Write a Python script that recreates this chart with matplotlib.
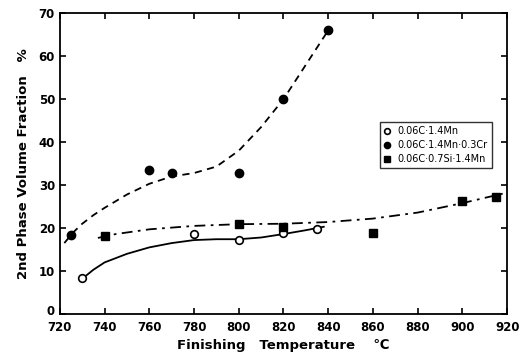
import matplotlib.pyplot as plt
from matplotlib.transforms import ScaledTranslation

# measured points
mn_x = [730, 780, 800, 820, 835]
mn_y = [8.3, 18.5, 17.3, 18.9, 19.7]
cr_x = [725, 760, 770, 800, 820, 840]
cr_y = [18.3, 33.6, 32.8, 32.8, 50.1, 66.0]
si_x = [740, 800, 820, 860, 900, 915]
si_y = [18.2, 21.0, 20.3, 18.8, 26.3, 27.3]

# hand-drawn trend curves
mn_cx = [730, 735, 740, 750, 760, 770, 780, 790, 800, 810, 820, 830, 838]
mn_cy = [8.2, 10.3, 12.0, 14.0, 15.5, 16.5, 17.2, 17.4, 17.4, 17.8, 18.6, 19.5, 20.3]
cr_cx = [722, 726, 730, 735, 740, 750, 760, 770, 780, 790, 800, 810, 820, 830, 840]
cr_cy = [16.5, 19.0, 21.0, 23.0, 24.7, 27.8, 30.3, 32.0, 32.8, 34.3, 38.0, 43.5, 50.0, 58.0, 66.0]
si_cx = [737, 745, 760, 780, 800, 820, 840, 860, 880, 900, 918]
si_cy = [17.7, 18.6, 19.7, 20.5, 20.9, 21.0, 21.4, 22.2, 23.6, 25.8, 28.0]

labels = ["0.06C\u00b71.4Mn", "0.06C\u00b71.4Mn\u00b70.3Cr", "0.06C\u00b70.7Si\u00b71.4Mn"]

plt.rcParams["font.family"] = "DejaVu Sans"
plt.rcParams["font.weight"] = "bold"

fig = plt.figure(figsize=(5.25, 3.56), dpi=100)
ax = fig.add_axes([0.114, 0.118, 0.852, 0.845])

ax.plot(mn_cx, mn_cy, "k-", lw=1.3)
ax.plot(cr_cx, cr_cy, "k--", lw=1.3, dashes=(4, 3))
ax.plot(si_cx, si_cy, "k-.", lw=1.3, dashes=(6, 3, 1.5, 3))

ax.plot(mn_x, mn_y, "o", mfc="white", mec="k", mew=1.2, ms=5.5, label=labels[0])
ax.plot(cr_x, cr_y, "o", color="k", ms=6, label=labels[1])
ax.plot(si_x, si_y, "s", color="k", ms=5.5, label=labels[2])

ax.set_xlim(720, 920)
ax.set_ylim(0, 70)
ax.set_xticks(range(720, 921, 20))
ax.set_yticks(range(0, 71, 10))
ax.tick_params(direction="in", top=True, right=True, length=4, width=1.2, labelsize=8.5)
ax.tick_params(axis="x", pad=5)
for s in ax.spines.values():
    s.set_linewidth(1.3)

fig.canvas.draw()
zero = ax.get_yticklabels()[0]
zero.set_transform(zero.get_transform() + ScaledTranslation(0, 3 / 72, fig.dpi_scale_trans))

ax.set_xlabel("Finishing   Temperature    \u2103", fontsize=9.5, fontweight="bold")
ax.set_ylabel("2nd Phase Volume Fraction   %", fontsize=9.5, fontweight="bold", labelpad=6)

leg = ax.legend(loc="upper left", bbox_to_anchor=(0.705, 0.655), fontsize=7,
                frameon=True, fancybox=False, edgecolor="k", handlelength=0.6,
                handletextpad=0.7, borderpad=0.45, labelspacing=0.4, markerscale=0.75)
leg.get_frame().set_linewidth(1.0)
for t in leg.get_texts():
    t.set_fontweight("normal")

fig.savefig("out.png", dpi=100)
